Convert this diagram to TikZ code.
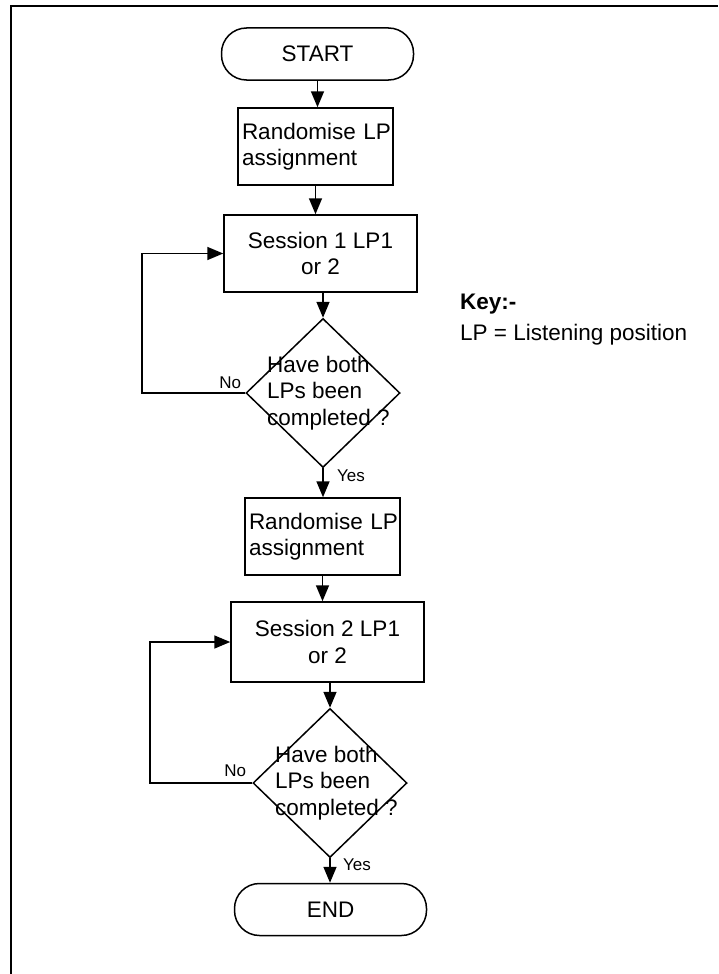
\documentclass[tikz,border=0pt]{standalone}
\usepackage{fontspec}
\setmainfont{Liberation Sans}
\usetikzlibrary{shapes.geometric,arrows.meta}
\begin{document}
\begin{tikzpicture}[x=1pt,y=-1pt,
  every node/.style={font=\fontsize{22.5}{26.5}\selectfont},
  procbox/.style={draw,line width=1.5pt,rectangle,inner sep=0pt},
  randbox/.style={procbox,minimum width=155pt,minimum height=77pt,text width=153pt,inner xsep=1pt,align=left},
  termbox/.style={draw,line width=1.5pt,rectangle,rounded corners=25pt,inner sep=0pt,minimum height=52pt,minimum width=192pt},
  decbox/.style={draw,line width=1.5pt,diamond,inner sep=0pt,minimum width=154pt,minimum height=149pt},
  arr/.style={line width=1.6pt,-{Triangle[width=13pt,length=16pt]}},
  lab/.style={font=\fontsize{17}{20}\selectfont},
  plain/.style={inner sep=0pt}
]
\useasboundingbox (0,0) rectangle (718,974);
\draw[line width=2pt] (11,974) -- (11,6) -- (718,6);

\node[termbox] (start) at (317.5,54) {START};
\node[randbox] (r1) at (315.5,146.5) {\hspace{3pt}Randomise LP\\\hspace{3pt}assignment};
\node[procbox,minimum width=193pt,minimum height=77pt,align=center] (s1) at (320.5,253.5) {Session 1 LP1\\or 2};
\node[decbox] (d1) at (323,393) {};
\node[plain,anchor=west,align=left] (t1) at (267,393) {Have both\\LPs been\\completed ?};
\node[randbox] (r2) at (322.5,536.5) {\hspace{3pt}Randomise LP\\\hspace{3pt}assignment};
\node[procbox,minimum width=193pt,minimum height=80pt,align=center] (s2) at (327.5,642) {Session 2 LP1\\or 2};
\node[decbox] (d2) at (330,783) {};
\node[plain,anchor=west,align=left] (t2) at (275,783) {Have both\\LPs been\\completed ?};
\node[termbox] (end) at (330.5,909.5) {END};

\draw[arr] (start.south) -- (start.south |- r1.north);
\draw[arr] (r1.south) -- (r1.south |- s1.north);
\draw[arr] (s1.south -| d1.north) -- (d1.north);
\draw[arr] (d1.south) -- (d1.south |- r2.north);
\draw[arr] (r2.south) -- (r2.south |- s2.north);
\draw[arr] (s2.south -| d2.north) -- (d2.north);
\draw[arr] (d2.south) -- (d2.south |- end.north);

\draw[arr] (d1.west) -- ++(-103,0) |- (s1.west);
\draw[arr] (d2.west) -- ++(-102,0) |- (s2.west);

\node[lab,plain,anchor=base east] (no1) at ([xshift=-4pt,yshift=5pt]d1.west) {No};
\node[lab,plain,anchor=base east] (no2) at ([xshift=-6pt,yshift=7pt]d2.west) {No};
\node[lab,plain,anchor=west] (yes1) at ([xshift=14pt,yshift=-7pt]d1.south) {Yes};
\node[lab,plain,anchor=west] (yes2) at ([xshift=13pt,yshift=-6pt]d2.south) {Yes};

\node[plain,anchor=west,font=\fontsize{22.5}{26}\selectfont\bfseries] (key) at (460,304) {Key:-};
\node[plain,anchor=west] (keyt) at (460,335) {LP = Listening position};
\end{tikzpicture}
\end{document}
